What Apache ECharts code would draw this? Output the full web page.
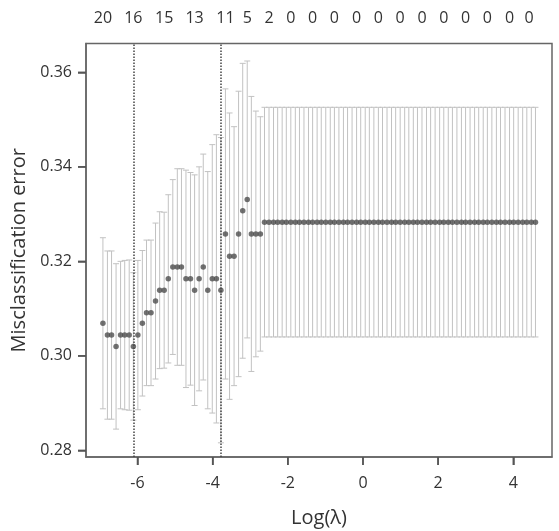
<!DOCTYPE html>
<html>
<head>
<meta charset="utf-8">
<script src="https://cdn.jsdelivr.net/npm/echarts@6/dist/echarts.min.js"></script>
<style>
html,body{margin:0;padding:0;background:#fff;}
#chart{width:559px;height:531px;}
</style>
</head>
<body>
<div id="chart"></div>
<script>
// log(lambda) for each of the 100 fits
var logLambda = [
-6.92,-6.80,-6.69,-6.57,-6.45,-6.34,-6.22,-6.11,-5.99,-5.87,
-5.76,-5.64,-5.52,-5.41,-5.29,-5.18,-5.06,-4.94,-4.83,-4.71,
-4.59,-4.48,-4.36,-4.25,-4.13,-4.01,-3.90,-3.78,-3.66,-3.55,
-3.43,-3.31,-3.20,-3.08,-2.97,-2.85,-2.73,-2.62,-2.50,-2.38,
-2.27,-2.15,-2.04,-1.92,-1.80,-1.69,-1.57,-1.45,-1.34,-1.22,
-1.11,-0.99,-0.87,-0.76,-0.64,-0.52,-0.41,-0.29,-0.17,-0.06,
0.06,0.17,0.29,0.41,0.52,0.64,0.76,0.87,0.99,1.11,
1.22,1.34,1.45,1.57,1.69,1.80,1.92,2.04,2.15,2.27,
2.38,2.50,2.62,2.73,2.85,2.97,3.08,3.20,3.31,3.43,
3.55,3.66,3.78,3.90,4.01,4.13,4.25,4.36,4.48,4.59
];
// mean cross-validated misclassification error
var cvMean = [
0.3069,0.3044,0.3044,0.3020,0.3044,0.3044,0.3044,0.3020,0.3044,0.3069,
0.3091,0.3091,0.3116,0.3139,0.3139,0.3163,0.3188,0.3188,0.3188,0.3163,
0.3163,0.3139,0.3163,0.3188,0.3139,0.3163,0.3163,0.3139,0.3258,0.3211,
0.3211,0.3258,0.3307,0.3331,0.3258,0.3258,0.3258,0.3283,0.3283,0.3283,
0.3283,0.3283,0.3283,0.3283,0.3283,0.3283,0.3283,0.3283,0.3283,0.3283,
0.3283,0.3283,0.3283,0.3283,0.3283,0.3283,0.3283,0.3283,0.3283,0.3283,
0.3283,0.3283,0.3283,0.3283,0.3283,0.3283,0.3283,0.3283,0.3283,0.3283,
0.3283,0.3283,0.3283,0.3283,0.3283,0.3283,0.3283,0.3283,0.3283,0.3283,
0.3283,0.3283,0.3283,0.3283,0.3283,0.3283,0.3283,0.3283,0.3283,0.3283,
0.3283,0.3283,0.3283,0.3283,0.3283,0.3283,0.3283,0.3283,0.3283,0.3283
];
// standard error of the CV error
var cvSE = [
0.0181,0.0178,0.0178,0.0175,0.0156,0.0158,0.0159,0.0156,0.0158,0.0154,
0.0154,0.0154,0.0165,0.0166,0.0165,0.0178,0.0185,0.0208,0.0208,0.0230,
0.0225,0.0244,0.0237,0.0239,0.0251,0.0284,0.0305,0.0323,0.0307,0.0303,
0.0274,0.0302,0.0312,0.0293,0.0291,0.0260,0.0248,0.0243,0.0243,0.0243,
0.0243,0.0243,0.0243,0.0243,0.0243,0.0243,0.0243,0.0243,0.0243,0.0243,
0.0243,0.0243,0.0243,0.0243,0.0243,0.0243,0.0243,0.0243,0.0243,0.0243,
0.0243,0.0243,0.0243,0.0243,0.0243,0.0243,0.0243,0.0243,0.0243,0.0243,
0.0243,0.0243,0.0243,0.0243,0.0243,0.0243,0.0243,0.0243,0.0243,0.0243,
0.0243,0.0243,0.0243,0.0243,0.0243,0.0243,0.0243,0.0243,0.0243,0.0243,
0.0243,0.0243,0.0243,0.0243,0.0243,0.0243,0.0243,0.0243,0.0243,0.0243
];
// top axis: number of nonzero coefficients
var topTickX = [-6.92,-6.11,-5.29,-4.48,-3.66,-3.08,-2.50,-1.92,-1.34,-0.76,-0.17,0.41,0.99,1.57,2.15,2.73,3.31,3.90,4.42];
var topTickLabels = ['20','16','15','13','11','5','2','0','0','0','0','0','0','0','0','0','0','0','0'];
// bottom / left ticks
var xTicks = [-6,-4,-2,0,2,4];
var yTicks = [0.28,0.30,0.32,0.34,0.36];
// lambda.min and lambda.1se
var refLines = [-6.11,-3.78];

var font = 'Open Sans';
var txt = '#333333';
var xMin = -7.37, xMax = 5.03, yMin = 0.2786, yMax = 0.3661;

var barData = logLambda.map(function(x,i){ return [x, cvMean[i]-cvSE[i], cvMean[i]+cvSE[i]]; });
var ptData = logLambda.map(function(x,i){ return [x, cvMean[i]]; });
var tickData = xTicks.map(function(v){return [v, yMin, 0];}).concat(yTicks.map(function(v){return [xMin, v, 1];}));
var tickStyle = {color:'#555555',width:1.5};

var chart = echarts.init(document.getElementById('chart'), null, {renderer:'canvas'});
chart.setOption({
  animation:false,
  backgroundColor:'#ffffff',
  textStyle:{fontFamily:font},
  grid:{left:86,right:7,top:43.5,bottom:74,show:true,borderColor:'#666666',borderWidth:1.5,backgroundColor:'transparent',containLabel:false,outerBoundsMode:'none'},
  xAxis:[{
    type:'value',min:xMin,max:xMax,position:'bottom',
    axisLine:{show:true,onZero:false,lineStyle:{color:'#666666',width:1.5}},
    splitLine:{show:false},
    axisTick:{show:true,inside:false,length:8,customValues:xTicks,lineStyle:tickStyle},
    axisLabel:{customValues:xTicks,fontSize:16,color:txt,margin:18,fontFamily:font},
    name:'Log(λ)',nameLocation:'middle',nameGap:51,
    nameTextStyle:{fontSize:20,color:txt,fontFamily:font}
  },{
    type:'value',min:xMin,max:xMax,position:'top',
    axisLine:{show:false,onZero:false},splitLine:{show:false},axisTick:{show:false},
    axisLabel:{customValues:topTickX,fontSize:16,color:txt,margin:17,fontFamily:font,
      formatter:function(v){
        var best=0,bd=1e9;
        for(var i=0;i<topTickX.length;i++){var d=Math.abs(topTickX[i]-v);if(d<bd){bd=d;best=i;}}
        return topTickLabels[best];
      }}
  }],
  yAxis:{
    type:'value',min:yMin,max:yMax,position:'left',
    axisLine:{show:true,onZero:false,lineStyle:{color:'#666666',width:1.5}},splitLine:{show:false},
    axisTick:{show:true,inside:false,length:8,customValues:yTicks,lineStyle:tickStyle},
    axisLabel:{customValues:yTicks,fontSize:16,color:txt,margin:14,fontFamily:font,formatter:function(v){return v.toFixed(2);}},
    name:'Misclassification error',nameLocation:'middle',nameGap:53,
    nameTextStyle:{fontSize:20,color:txt,fontFamily:font}
  },
  series:[{
    type:'custom',
    xAxisIndex:0,
    data:barData,
    silent:true,
    renderItem:function(params,api){
      var x=api.value(0), lo=api.value(1), hi=api.value(2);
      var p1=api.coord([x,hi]), p2=api.coord([x,lo]);
      var hw=3;
      var st={stroke:'#c2c2c2',lineWidth:1};
      return {type:'group',children:[
        {type:'line',shape:{x1:p1[0],y1:p1[1],x2:p2[0],y2:p2[1]},style:st},
        {type:'line',shape:{x1:p1[0]-hw,y1:p1[1],x2:p1[0]+hw,y2:p1[1]},style:st},
        {type:'line',shape:{x1:p2[0]-hw,y1:p2[1],x2:p2[0]+hw,y2:p2[1]},style:st}
      ]};
    },
    z:1
  },{
    type:'custom',
    xAxisIndex:0,
    data:tickData,
    silent:true,
    clip:false,
    renderItem:function(params,api){
      var p=api.coord([api.value(0),api.value(1)]);
      var st={stroke:'#555555',lineWidth:1.5};
      if(api.value(2)===0){
        return {type:'line',shape:{x1:p[0],y1:p[1],x2:p[0],y2:p[1]+8},style:st};
      }
      return {type:'line',shape:{x1:p[0]-8,y1:p[1],x2:p[0],y2:p[1]},style:st};
    },
    z:3
  },{
    type:'scatter',
    xAxisIndex:0,
    data:ptData,
    symbol:'circle',symbolSize:5.5,
    itemStyle:{color:'#4d4d4d'},
    silent:true,
    z:2,
    markLine:{
      silent:true,symbol:['none','none'],label:{show:false},
      lineStyle:{type:'dotted',color:'#444444',width:1.5},
      data:refLines.map(function(v){return {xAxis:v};})
    }
  }]
});
</script>
</body>
</html>
